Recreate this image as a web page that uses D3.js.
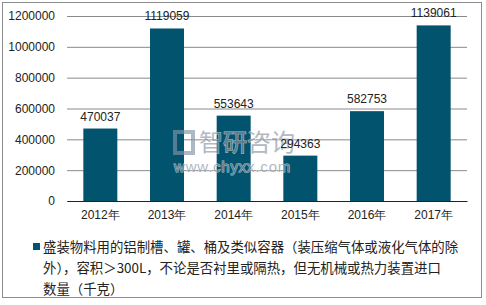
<!DOCTYPE html>
<html>
<head>
<meta charset="utf-8">
<script src="https://cdn.jsdelivr.net/npm/d3@7"></script>
<style>
  body { margin: 0; background: #fff; }
  svg { display: block; font-family: "Liberation Sans", "Noto Sans CJK SC", sans-serif; }
</style>
</head>
<body>
<svg></svg>
<script>
let years = ['2012年', '2013年', '2014年', '2015年', '2016年', '2017年'];
let values = [470037, 1119059, 553643, 294363, 582753, 1139061];
let yTicks = [0, 200000, 400000, 600000, 800000, 1000000, 1200000];
let legendLines = [
    '盛装物料用的铝制槽、罐、桶及类似容器（装压缩气体或液化气体的除',
    '外），容积＞300L，不论是否衬里或隔热，但无机械或热力装置进口',
    '数量（千克）'
];

let svgWidth = 486, svgHeight = 305;
let margin = {left: 67, right: 19, top: 16, bottom: 104};

let svg = d3.select('svg')
            .attr('width', svgWidth)
            .attr('height', svgHeight);

// outer frame
svg.append('rect')
   .attr('x', 2.5).attr('y', 2.5)
   .attr('width', 479).attr('height', 295)
   .attr('fill', '#fff')
   .attr('stroke', '#8c8c8c');

let x = d3.scaleBand()
          .domain(years)
          .range([margin.left, svgWidth - margin.right])
          .paddingInner(0.49)
          .paddingOuter(0.245);

let y = d3.scaleLinear()
          .domain([0, 1200000])
          .range([svgHeight - margin.bottom, margin.top]);

// grid lines + tick labels
let yAxis = d3.axisLeft(y)
              .tickValues(yTicks)
              .tickSize(-(svgWidth - margin.left - margin.right))
              .tickPadding(12)
              .tickFormat(d3.format('d'));

let gy = svg.append('g')
            .attr('transform', 'translate(' + margin.left + ',0)')
            .call(yAxis);
gy.select('.domain').remove();
gy.selectAll('line').attr('stroke', '#8a8a8a');
gy.selectAll('text').attr('fill', '#222').style('font-size', '12px');

// bars
svg.selectAll('.bar')
   .data(values)
   .enter()
   .append('rect')
   .attr('class', 'bar')
   .attr('x', (d, i) => x(years[i]))
   .attr('y', d => y(d))
   .attr('width', x.bandwidth())
   .attr('height', d => y(0) - y(d))
   .attr('fill', '#02536d');

// watermark (sits over the bars, like the source image)
let wm = svg.append('g').attr('opacity', 0.65);
wm.append('rect').attr('x', 175).attr('y', 132).attr('width', 18).attr('height', 21)
  .attr('fill', 'none').attr('stroke', '#8193a8').attr('stroke-width', 4);
wm.append('text').attr('x', 199).attr('y', 151)
  .style('font-family', '"Noto Sans CJK SC"').style('font-size', '24px')
  .attr('fill', '#8a94a2').attr('stroke', '#fff').attr('stroke-width', 1)
  .attr('paint-order', 'stroke')
  .text('智研咨询');
wm.append('text').attr('x', 174).attr('y', 172)
  .style('font-family', '"Liberation Sans"').style('font-size', '15px')
  .style('letter-spacing', '0.8px')
  .attr('fill', '#8a94a2').attr('stroke', '#fff').attr('stroke-width', 1)
  .attr('paint-order', 'stroke')
  .text('www.chyxx.com');

// value labels
svg.selectAll('.val')
   .data(values)
   .enter()
   .append('text')
   .attr('class', 'val')
   .attr('x', (d, i) => x(years[i]) + x.bandwidth() / 2)
   .attr('y', d => y(d) - 8)
   .attr('text-anchor', 'middle')
   .attr('fill', '#222')
   .style('font-size', '12px')
   .text(d => d);

// x axis
let gx = svg.append('g')
            .attr('transform', 'translate(0,' + y(0) + ')')
            .call(d3.axisBottom(x).tickSize(0).tickPadding(9));
gx.select('.domain').attr('stroke', '#222');
gx.selectAll('text').attr('fill', '#222').style('font-size', '12px');

// legend
svg.append('rect')
   .attr('x', 33).attr('y', 243)
   .attr('width', 7).attr('height', 7)
   .attr('fill', '#02536d');

svg.append('g')
   .selectAll('text')
   .data(legendLines)
   .enter()
   .append('text')
   .attr('x', 43)
   .attr('y', (d, i) => 252 + i * 21)
   .attr('fill', '#222')
   .style('font-family', '"Noto Sans CJK SC"')
   .style('font-size', '13.4px')
   .text(d => d);
</script>
</body>
</html>
